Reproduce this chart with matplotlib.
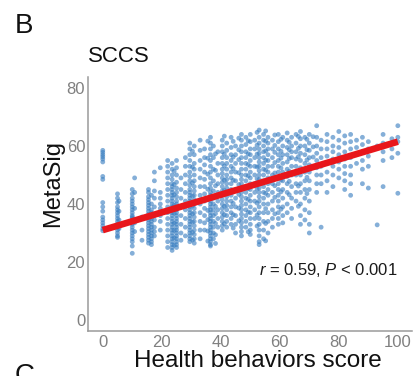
import numpy as np
import matplotlib
matplotlib.use("Agg")
import matplotlib.pyplot as plt

plt.rcParams['font.family'] = ['Liberation Sans', 'DejaVu Sans']
plt.rcParams['mathtext.fontset'] = 'custom'
plt.rcParams['mathtext.rm'] = 'Liberation Sans'
plt.rcParams['mathtext.it'] = 'Liberation Sans:italic'

# ---- data ----
column_scores = [0, 5, 5.5, 10, 10.8, 13.3, 15.5, 16.5, 17.5, 19.5, 22, 23.5, 25, 26.5, 28,
                 29.5, 31, 33, 34.5, 36.5, 37.5, 39, 40.5, 42, 43.5, 45, 47, 48.5, 50, 51.5,
                 53, 54.5, 56, 57.5, 59.5, 61, 62.5, 64, 65.5, 67, 68.5, 70, 72.5, 74, 76,
                 78, 80, 82, 84, 86, 88, 90, 93, 95, 98, 100,
                 24.2, 30.4, 35.6, 38.2, 41.2, 44.2, 46.1, 49.3, 52.3, 55.2, 58.3, 60.4,
                 63.2, 66.3, 69.2, 71.3]
column_metasig = [
    [58.5, 57.8, 57, 56.3, 55.5, 54.5, 49.5, 48.5, 40.5, 39, 37.5, 35.5, 34.5, 33.5, 32.5, 31.5, 30.8],
    [43.5, 42, 40.5, 39, 38, 37, 36, 35, 34, 33, 32, 31, 30, 29, 28.5],
    [41, 37.5, 34.5, 31.5],
    [45, 43.5, 42, 41, 40, 39, 38, 37, 36, 35.5, 35, 34, 33, 32, 31, 30, 29, 28, 27, 25.5, 23],
    [49, 44, 38.5, 33.5, 30.5],
    [35.5, 31, 27.5],
    [45, 44, 42.5, 41.5, 40.5, 39.5, 38.5, 37.5, 36.5, 35.5, 34.5, 33.5, 32.5, 31.5, 30.5, 29.5, 28.5, 27.5, 26.5],
    [43, 40, 38, 37, 36, 35, 34, 33, 32, 31, 30, 29, 28, 27, 26],
    [51, 48, 44.5, 42, 39, 36, 34.5, 32, 30.5, 29],
    [52.5, 44, 42, 40, 38.5, 36, 34, 31],
    [55, 53, 51, 49, 47, 45, 43, 41, 39, 37, 35, 33, 31, 29, 27, 25],
    [54, 52, 50, 48.5, 47, 46, 45, 44, 43, 42, 41, 40, 39, 38, 37, 36, 35, 34, 33, 32, 31, 30, 29, 28, 27, 26, 25, 24],
    [55, 52.5, 50, 47.5, 45.5, 44, 42.5, 41, 40, 39, 38, 37, 36, 35, 34, 33, 32, 31, 30, 29, 28, 27, 26, 25],
    [49, 45, 42, 39, 36, 33, 30, 27.5],
    [56, 53, 50, 47, 44, 41, 38, 35, 32, 29],
    [61, 59, 57, 55, 53, 51, 49.5, 48, 46.5, 45, 44, 43, 42, 41, 40, 39, 38, 37, 36, 35, 34, 33, 32, 31, 30, 29, 28, 27],
    [60, 57, 54, 52, 50, 48, 46, 44.5, 43, 41.5, 40, 38.5, 37, 35.5, 34, 32.5, 31, 29.5, 28, 26.5],
    [62, 58.5, 55, 52, 49, 46, 43, 40, 37, 34, 31, 28],
    [59, 56, 53.5, 51, 48.5, 46, 43.5, 41, 38.5, 36, 33.5, 31],
    [63, 61, 59, 57, 55, 53, 51, 49, 47, 45.5, 44, 43, 42, 41, 40, 39, 38, 37, 36, 35, 34, 33, 32, 31, 30, 29, 28, 27, 26, 25.5],
    [60, 56, 52, 48, 44.5, 42, 40, 38, 36, 34, 32, 30, 28],
    [58, 54, 50, 47, 44, 41, 38, 35, 32],
    [62, 60, 58, 56, 54, 52, 50.5, 49, 47.5, 46, 44.5, 43, 41.5, 40, 38.5, 37, 35.5, 34, 32.5, 31],
    [61, 58.5, 56, 54, 52, 50, 48.5, 47, 45.5, 44, 42.5, 41, 39.5, 38, 36, 34, 32],
    [63, 59.5, 57, 55, 53, 51, 49, 47, 45, 43, 41, 39, 37, 35, 33],
    [60, 57, 54, 51, 48, 45, 42, 39, 36, 33, 30],
    [64, 62, 60, 58, 56, 54, 52, 50, 48.5, 47, 45.5, 44, 42.5, 41, 39.5, 38, 36.5, 35, 33.5, 32, 30.5, 29],
    [63, 60.5, 58, 56, 54, 52, 50, 48, 46, 44, 42, 40, 38, 36, 34, 32],
    [64, 61.5, 59, 57, 55, 53, 51, 49, 47, 45, 43, 41, 39, 37, 35, 33, 31, 29.5],
    [62, 59, 56, 53, 50, 47, 44, 41, 38, 35],
    [65.5, 63, 61, 59, 57.5, 56, 54.5, 53, 51.5, 50, 48.5, 47, 45.5, 44, 42.5, 41, 39, 37, 35, 33, 31, 29, 27, 26],
    [64, 62, 60, 58, 56, 54, 52, 50, 48, 46, 44, 42, 40, 37, 34, 31, 28],
    [63, 61, 59, 57, 55, 53, 51, 49, 47, 45, 43, 40, 37, 34, 30],
    [62, 59, 56, 53, 50, 47, 44, 41, 38, 35, 32],
    [64, 61.5, 59, 57, 55, 53, 51, 49, 47, 45, 43, 41, 39, 37, 35, 33],
    [63, 60, 57, 54, 51, 48, 45, 42, 39, 36, 33.5],
    [64.5, 62, 59.5, 57, 54.5, 52, 49.5, 47, 44, 40, 37],
    [63, 60, 58, 56, 53, 50, 46, 42, 38.5, 35],
    [64, 61, 58, 55.5, 53, 50, 47, 44, 41],
    [65, 62.5, 60, 57.5, 55, 52.5, 50, 47, 44, 40, 36, 33],
    [63, 60, 57, 54, 51, 48, 45, 42, 38, 34.5],
    [64, 61, 58.5, 56, 53.5, 51, 48, 45, 41, 37, 33, 30],
    [67, 63, 60, 57.5, 55, 52.5, 50, 47, 44],
    [62, 59, 56, 53, 50, 47, 32],
    [64, 61.5, 59, 56.5, 54, 51, 48, 44],
    [63, 60, 58, 55.5, 53, 50, 46],
    [65, 62, 59.5, 57, 54.5, 52, 49],
    [63.5, 61, 58, 55.5, 53, 50.5, 48, 45],
    [64, 61.5, 59, 56, 53, 50, 47, 43],
    [62, 59.5, 57, 54],
    [63, 60.5, 58, 55, 52, 47],
    [61.5, 59, 56.5, 53, 45.5],
    [60, 32.8],
    [64, 61, 58, 55, 46],
    [62.5, 59, 56],
    [67, 63, 61.5, 57.5, 43.7],
    [51.3, 46.7, 43.2, 39.6, 36.8, 33.4, 30.9, 28.3, 25.8],
    [58.2, 52.7, 47.3, 42.8, 39.3, 36.6, 33.8, 30.2, 27.6],
    [61.7, 55.8, 50.3, 45.1, 41.7, 37.8, 34.6, 30.7, 27.2],
    [57.3, 51.6, 46.3, 42.7, 39.2, 36.7, 33.3, 29.4, 26.4],
    [63.4, 57.2, 53.1, 48.2, 44.7, 39.2, 36.3, 33.2],
    [61.6, 56.2, 52.2, 48.2, 44.2, 40.2, 36.3, 31.7],
    [62.7, 58.7, 55.3, 50.8, 46.7, 43.3, 38.6, 34.2],
    [61.8, 57.3, 53.6, 49.7, 45.3, 41.6, 37.2, 30.4],
    [64.7, 60.3, 57.2, 52.8, 48.7, 45.2, 40.3, 36.2, 32.4],
    [65.2, 61.7, 58.3, 55.1, 51.7, 47.8, 43.7, 38.4, 33.3, 27.3],
    [63.8, 60.2, 57.8, 54.3, 50.7, 46.3, 42.3, 36.6],
    [62.3, 58.2, 55.8, 52.4, 48.3, 44.2, 38.2],
    [61.3, 58.7, 55.7, 51.3, 47.8, 43.2],
    [63.3, 59.2, 56.3, 51.2, 46.2, 39.2],
    [62.3, 58.7, 55.2, 49.2, 43.6],
    [63.2, 59.7, 56.2, 52.7],
]
fit_intercept = 31.0
fit_slope = 0.305
fit_range = [0, 100]
x_ticks = [0, 20, 40, 60, 80, 100]
y_ticks = [0, 20, 40, 60, 80]
annotation = r'$\it{r}$ = 0.59, $\it{P}$ < 0.001'

score = np.concatenate([[s] * len(v) for s, v in zip(column_scores, column_metasig)])
metasig = np.concatenate(column_metasig)

W, H = 416, 376
fig = plt.figure(figsize=(W / 100, H / 100), dpi=100)
ax = fig.add_axes([88 / W, 1 - 331 / H, (412 - 88) / W, (331 - 77) / H])

ax.scatter(score, metasig, s=12, color='#3a7fc1', alpha=0.62, edgecolors='none', zorder=2)
fx = np.array(fit_range, dtype=float)
ax.plot(fx, fit_intercept + fit_slope * fx, color='#e8161b', lw=4.8, solid_capstyle='butt', zorder=3)

ax.set_xlim(-5, 104.8)
ax.set_ylim(-3.8, 83.8)
ax.set_xticks(x_ticks)
ax.set_yticks(y_ticks)
ax.tick_params(length=0, labelsize=12, labelcolor='#808080')
ax.tick_params(axis='x', pad=3)
ax.tick_params(axis='y', pad=2)
for side in ['top', 'right']:
    ax.spines[side].set_visible(False)
for side in ['left', 'bottom']:
    ax.spines[side].set_color('#9a9a9a')
    ax.spines[side].set_linewidth(1.1)

ax.text(100, 17.4, annotation, ha='right', va='center', fontsize=12, color='#1a1a1a')

fig.text(15 / W, 1 - 33 / H, 'B', fontsize=20, ha='left', va='baseline', color='#111111')
fig.text(15 / W, 1 - 383 / H, 'C', fontsize=20, ha='left', va='baseline', color='#111111')
fig.text(88 / W, 1 - 62 / H, 'SCCS', fontsize=16, ha='left', va='baseline', color='#111111')
fig.text(53 / W, 1 - 183.5 / H, 'MetaSig', fontsize=17, rotation=90, ha='center', va='center', color='#111111')
fig.text(257.5 / W, 1 - 366.7 / H, 'Health behaviors score', fontsize=17.5, ha='center', va='baseline', color='#111111')

fig.savefig('out.png', dpi=100)
